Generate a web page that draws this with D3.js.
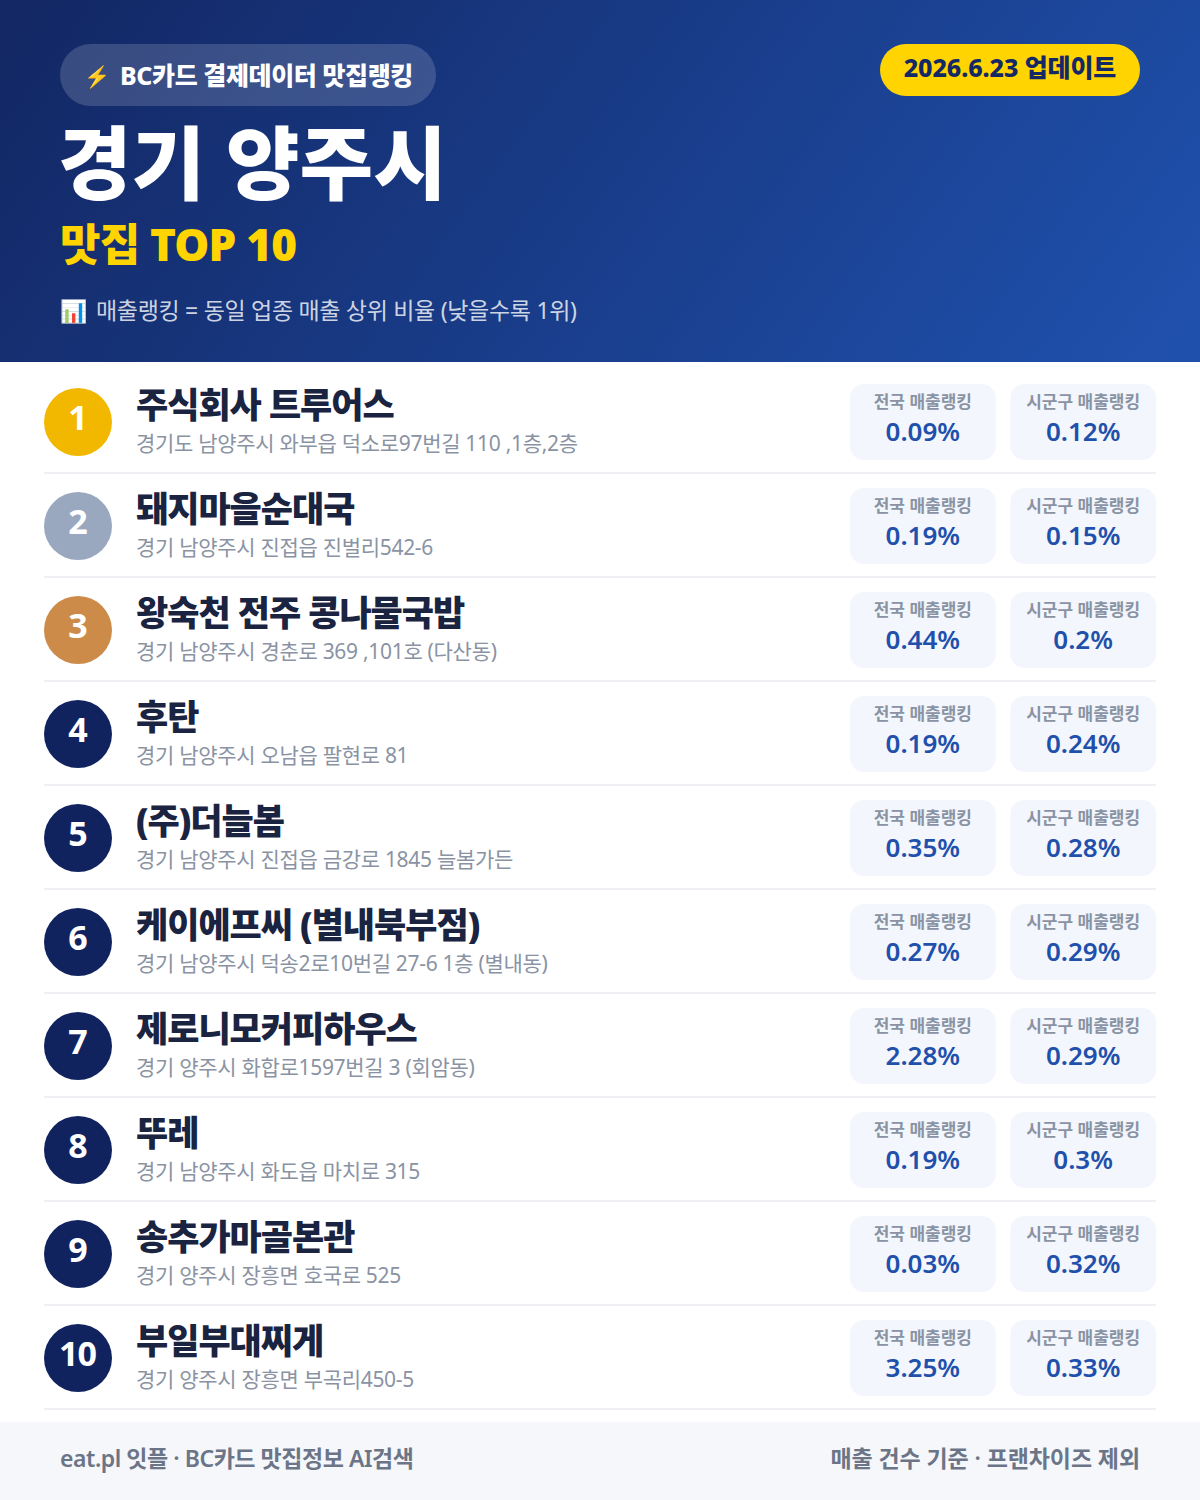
<!DOCTYPE html>
<html>
<head>
<meta charset="utf-8">
<script src="https://cdn.jsdelivr.net/npm/d3@7"></script>
<style>
  html, body { margin: 0; padding: 0; background: #fff; }
  svg { display: block; font-family: "Noto Sans", "Noto Sans CJK KR", sans-serif; }
</style>
</head>
<body>
<div id="card"></div>
<script>
var names = ["주식회사 트루어스", "돼지마을순대국", "왕숙천 전주 콩나물국밥", "후탄", "(주)더늘봄",
  "케이에프씨 (별내북부점)", "제로니모커피하우스", "뚜레", "송추가마골본관", "부일부대찌게"];
var addresses = ["경기도 남양주시 와부읍 덕소로97번길 110 ,1층,2층", "경기 남양주시 진접읍 진벌리542-6",
  "경기 남양주시 경춘로 369 ,101호 (다산동)", "경기 남양주시 오남읍 팔현로 81", "경기 남양주시 진접읍 금강로 1845 늘봄가든",
  "경기 남양주시 덕송2로10번길 27-6 1층 (별내동)", "경기 양주시 화합로1597번길 3 (회암동)", "경기 남양주시 화도읍 마치로 315",
  "경기 양주시 장흥면 호국로 525", "경기 양주시 장흥면 부곡리450-5"];
var national = ["0.09%", "0.19%", "0.44%", "0.19%", "0.35%", "0.27%", "2.28%", "0.19%", "0.03%", "3.25%"];
var local = ["0.12%", "0.15%", "0.2%", "0.24%", "0.28%", "0.29%", "0.29%", "0.3%", "0.32%", "0.33%"];
var ranks = d3.range(1, 11);
var statLabels = ["전국 매출랭킹", "시군구 매출랭킹"];

var width = 1200, height = 1500;

var svg = d3.select("#card").append("svg")
    .attr("width", width)
    .attr("height", height);

var defs = svg.append("defs");
var grad = defs.append("linearGradient")
    .attr("id", "head")
    .attr("gradientUnits", "userSpaceOnUse")
    .attr("x1", 150).attr("y1", -150)
    .attr("x2", 1050).attr("y2", 510);
grad.append("stop").attr("offset", 0).attr("stop-color", "#132865");
grad.append("stop").attr("offset", 1).attr("stop-color", "#1f50ac");

// header
svg.append("rect").attr("width", width).attr("height", 362).attr("fill", "url(#head)");
svg.append("rect").attr("x", 60).attr("y", 44).attr("width", 376).attr("height", 62).attr("rx", 31)
    .attr("fill", "#fff").attr("fill-opacity", 0.16);

function label(parent, x, y, str, size, weight, fill, anchor) {
  return parent.append("text")
      .attr("x", x).attr("y", y)
      .attr("font-size", size)
      .attr("font-weight", weight)
      .attr("fill", fill)
      .attr("text-anchor", anchor || "start")
      .text(str);
}

label(svg, 84, 84, "⚡", 21, 400, "#ffd400");
label(svg, 120, 85, "BC카드 결제데이터 맛집랭킹", 25, 800, "#fff").attr("letter-spacing", -0.4);
label(svg, 58, 193, "경기 양주시", 80, 900, "#fff");
label(svg, 60, 261, "맛집 TOP 10", 44, 900, "#ffd400").attr("letter-spacing", -0.8);
label(svg, 60, 319, "📊", 22, 400, "#fff");
label(svg, 96, 319, "매출랭킹 = 동일 업종 매출 상위 비율 (낮을수록 1위)", 23, 400, "#fff").attr("fill-opacity", 0.8).attr("letter-spacing", -0.3);

svg.append("rect").attr("x", 880).attr("y", 44).attr("width", 260).attr("height", 52).attr("rx", 26).attr("fill", "#ffd400");
label(svg, 1010, 77, "2026.6.23 업데이트", 25, 800, "#132865", "middle").attr("letter-spacing", -0.1);

// rows
var y = d3.scaleBand().domain(ranks).range([370, 1410]);
var badge = d3.scaleOrdinal().domain([1, 2, 3]).range(["#f2b800", "#9aa8bf", "#cd8b4a"]).unknown("#11235f");

var rows = svg.selectAll(".row").data(ranks).enter().append("g")
    .attr("class", "row")
    .attr("transform", function(d) { return "translate(0," + y(d) + ")"; });

rows.append("rect").attr("x", 44).attr("y", 102).attr("width", 1112).attr("height", 2).attr("fill", "#eef0f3");
rows.append("circle").attr("cx", 78).attr("cy", 52).attr("r", 34).attr("fill", function(d) { return badge(d); });
rows.append("text").attr("x", 77.5).attr("y", 60)
    .attr("text-anchor", "middle").attr("font-size", 34).attr("font-weight", 700).attr("fill", "#fff")
    .attr("letter-spacing", -1)
    .text(function(d) { return d; });
rows.append("text").attr("x", 136).attr("y", 47.5)
    .attr("font-size", 35).attr("font-weight", 900).attr("fill", "#1a2340").attr("letter-spacing", -1)
    .text(function(d, i) { return names[i]; });
rows.append("text").attr("x", 136).attr("y", 81)
    .attr("font-size", 21).attr("font-weight", 400).attr("fill", "#8a93a3")
    .attr("letter-spacing", -0.3)
    .text(function(d, i) { return addresses[i]; });

var statX = d3.scaleBand().domain([0, 1]).range([850, 1156]).paddingInner(14 / 153);

[national, local].forEach(function(values, k) {
  var g = rows.append("g").attr("transform", "translate(" + statX(k) + ",14)");
  var w = statX.bandwidth();
  g.append("rect").attr("width", w).attr("height", 76).attr("rx", 14).attr("fill", "#f3f6fc");
  g.append("text").attr("x", w / 2).attr("y", 24)
      .attr("text-anchor", "middle").attr("font-size", 17).attr("font-weight", 700).attr("fill", "#8a93a3")
      .text(statLabels[k]);
  g.append("text").attr("x", w / 2).attr("y", 57)
      .attr("text-anchor", "middle").attr("font-size", 26).attr("font-weight", 600).attr("fill", "#1f50ac")
      .text(function(d, i) { return values[i]; });
});

// footer
svg.append("rect").attr("y", 1422).attr("width", width).attr("height", 78).attr("fill", "#f5f7fa");
label(svg, 60, 1467, "eat.pl 잇플 · BC카드 맛집정보 AI검색", 23, 600, "#6b7587").attr("letter-spacing", -0.45);
label(svg, 1140, 1467, "매출 건수 기준 · 프랜차이즈 제외", 23, 600, "#6b7587", "end").attr("letter-spacing", -0.1);
</script>
</body>
</html>
